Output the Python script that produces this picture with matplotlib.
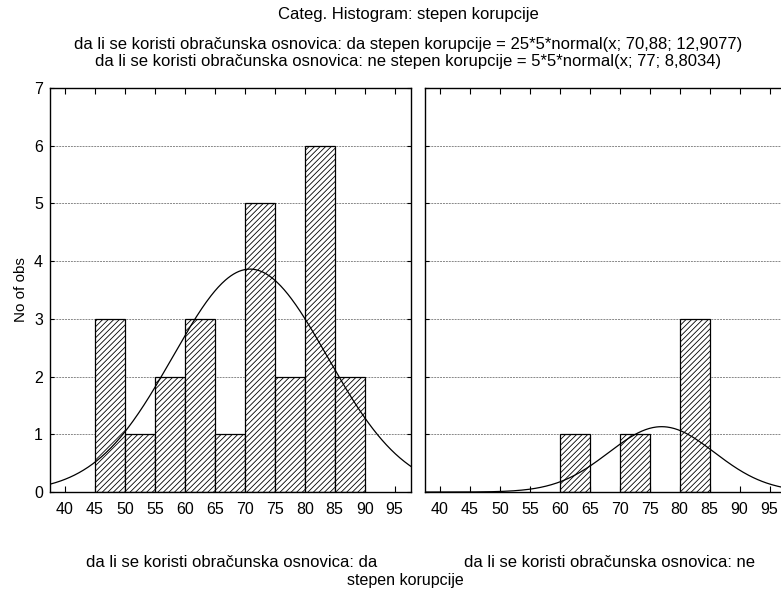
import numpy as np
import matplotlib
matplotlib.use("Agg")
import matplotlib.pyplot as plt

plt.rcParams['font.family'] = ['Liberation Sans', 'DejaVu Sans']
plt.rcParams['hatch.linewidth'] = 0.6

bin_edges = [45, 50, 55, 60, 65, 70, 75, 80, 85, 90]
counts_da = [3, 1, 2, 3, 1, 5, 2, 6, 2]
counts_ne = [0, 0, 0, 1, 0, 1, 0, 3, 0]
xticks = [40, 45, 50, 55, 60, 65, 70, 75, 80, 85, 90, 95]
yticks = [0, 1, 2, 3, 4, 5, 6, 7]
fit_da = (25, 70.88, 12.9077)
fit_ne = (5, 77.0, 8.8034)
bin_width = 5
panel_labels = ["da li se koristi obračunska osnovica: da",
                "da li se koristi obračunska osnovica: ne"]

def normal(x, m, s):
    return np.exp(-0.5 * ((x - m) / s) ** 2) / (s * np.sqrt(2 * np.pi))

fig = plt.figure(figsize=(7.81, 5.95), dpi=100)
ax1 = fig.add_axes([0.064, 0.173, 0.462, 0.679])
ax2 = fig.add_axes([0.544, 0.173, 0.462, 0.679])

xlim = (37.5, 97.7)
for i, (ax, counts, fit) in enumerate([(ax1, counts_da, fit_da), (ax2, counts_ne, fit_ne)]):
    lefts = bin_edges[:-1]
    for l, c in zip(lefts, counts):
        if c > 0:
            ax.bar(l, c, width=bin_width, align='edge', facecolor='white',
                   edgecolor='black', hatch='//////', linewidth=0.9, zorder=2)
    xs = np.linspace(xlim[0], xlim[1], 400)
    n, m, s = fit
    ax.plot(xs, n * bin_width * normal(xs, m, s), color='black', lw=0.9, zorder=3)
    ax.set_xlim(*xlim)
    ax.set_ylim(0, 7)
    ax.set_xticks(xticks)
    ax.set_yticks(yticks)
    ax.grid(axis='y', color='#888888', linestyle=(0, (2, 1)), linewidth=0.7, zorder=0)
    ax.set_axisbelow(True)
    ax.tick_params(axis='x', direction='in', top=True, bottom=True, length=4,
                   labelsize=11.5, pad=7.5)
    ax.tick_params(axis='y', direction='in', left=True, right=True, length=3,
                   labelsize=11.5, pad=5)
    for sp in ax.spines.values():
        sp.set_linewidth(1.0)
    if i == 1:
        ax.tick_params(axis='y', labelleft=False)

ax1.set_ylabel("No of obs", fontsize=11)

cx = 0.523
fig.text(cx, 0.975, "Categ. Histogram: stepen korupcije", ha='center', va='center', fontsize=12)
fig.text(cx, 0.925, "da li se koristi obračunska osnovica: da stepen korupcije = 25*5*normal(x; 70,88; 12,9077)",
         ha='center', va='center', fontsize=12)
fig.text(cx, 0.897, "da li se koristi obračunska osnovica: ne stepen korupcije = 5*5*normal(x; 77; 8,8034)",
         ha='center', va='center', fontsize=12)
fig.text(0.296, 0.055, panel_labels[0], ha='center', va='center', fontsize=12)
fig.text(0.781, 0.055, panel_labels[1], ha='center', va='center', fontsize=12)
fig.text(0.519, 0.024, "stepen korupcije", ha='center', va='center', fontsize=11.5)

fig.savefig("out.png", dpi=100)
